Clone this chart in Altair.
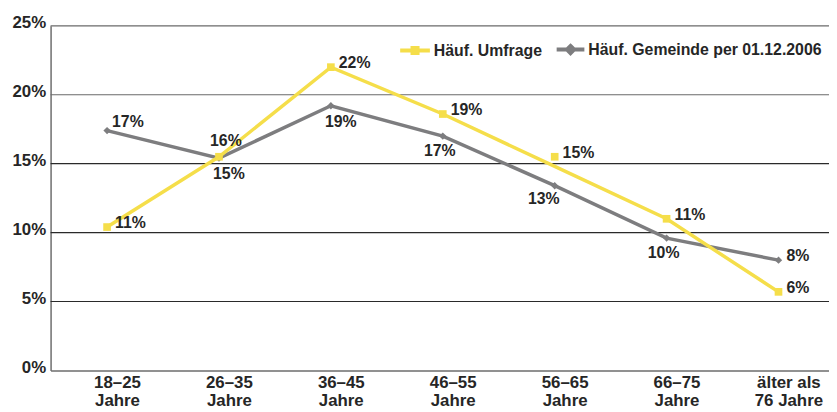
import altair as alt
import pandas as pd

# ---- data ----
ages = ["18–25|Jahre", "26–35|Jahre", "36–45|Jahre", "46–55|Jahre",
        "56–65|Jahre", "66–75|Jahre", "älter als|76 Jahre"]
series_names = ["Häuf. Umfrage", "Häuf. Gemeinde per 01.12.2006"]

umfrage_points = [10.4, 15.5, 22.0, 18.6, 15.5, 11.0, 5.7]
umfrage_line = [10.4, 15.5, 22.0, 18.6, 14.8, 11.0, 5.7]
umfrage_labels = ["11%", "16%", "22%", "19%", "15%", "11%", "6%"]
umfrage_label_pos = ["right", "above", "right", "right", "right", "right", "right"]

gemeinde_points = [17.4, 15.4, 19.2, 17.0, 13.4, 9.6, 8.0]
gemeinde_line = [17.4, 15.4, 19.2, 17.0, 13.4, 9.6, 8.0]
gemeinde_labels = ["17%", "15%", "19%", "17%", "13%", "10%", "8%"]
gemeinde_label_pos = ["upright", "below_right", "below_right", "below",
                      "below_left", "below", "right"]

y_ticks = [0, 5, 10, 15, 20, 25]

# ---- styles ----
YELLOW = "#f5de4a"
GRAY = "#7d7d7f"
TEXT = "#262626"
FONT = "Liberation Sans"

rows = []
for name, pts, ln, lab, pos in [
    (series_names[0], umfrage_points, umfrage_line, umfrage_labels, umfrage_label_pos),
    (series_names[1], gemeinde_points, gemeinde_line, gemeinde_labels, gemeinde_label_pos),
]:
    for a, p, l, t, ps in zip(ages, pts, ln, lab, pos):
        rows.append({"age": a, "series": name, "point": p, "line": l,
                     "label": t, "pos": ps})
df = pd.DataFrame(rows)
grid_df = pd.DataFrame({"tick": y_ticks[1:]})

x_scale = alt.Scale(type="point", padding=0.478, align=0.528)
y_scale = alt.Scale(domain=[0, 25], nice=False, zero=True)

x_axis = alt.Axis(title=None, labelExpr="split(datum.label, '|')",
                  labelFont=FONT, labelFontSize=17, labelFontWeight="bold",
                  labelColor=TEXT, labelLineHeight=18, labelBaseline="top",
                  labelPadding=4, labelOffset=10, ticks=False,
                  domainColor="#6d6d6d", domainWidth=1.5, grid=False,
                  labelAngle=0)
y_axis = alt.Axis(title=None, values=y_ticks, labelExpr="datum.value + '%'",
                  labelFont=FONT, labelFontSize=17, labelFontWeight="bold",
                  labelColor=TEXT, labelPadding=5, labelOffset=-3, ticks=False,
                  domainColor="#6d6d6d", domainWidth=1.5, grid=False)

base = alt.Chart(df)
X = alt.X("age:N", sort=ages, scale=x_scale, axis=x_axis)


def Y(field):
    return alt.Y(field, scale=y_scale, axis=y_axis)


um = base.transform_filter(alt.datum.series == series_names[0])
ge = base.transform_filter(alt.datum.series == series_names[1])

grid = alt.Chart(grid_df).mark_rule(strokeWidth=1.2).encode(
    y=Y("tick:Q"),
    color=alt.condition(alt.datum.tick >= 20, alt.value("#6a6a6a"), alt.value("#2a2a2a")),
)

legend_common = dict(orient="none", title=None, padding=0, labelFont=FONT,
                     labelFontSize=16, labelFontWeight="bold", labelColor=TEXT,
                     labelOffset=2, labelLimit=0, symbolStrokeWidth=4, legendY=8)

gray_line = ge.mark_line(strokeWidth=3.5).encode(
    x=X, y=Y("line:Q"),
    stroke=alt.Stroke("series:N",
                      scale=alt.Scale(domain=[series_names[1]], range=[GRAY]),
                      legend=alt.Legend(legendX=509, symbolSize=784,
                                        symbolType="M-1,0H1M0,-0.26L0.26,0L0,0.26L-0.26,0Z",
                                        symbolFillColor=GRAY,
                                        **legend_common)),
)
yellow_line = um.mark_line(strokeWidth=3.5).encode(
    x=X, y=Y("line:Q"),
    color=alt.Color("series:N",
                    scale=alt.Scale(domain=[series_names[0]], range=[YELLOW]),
                    legend=alt.Legend(legendX=351, symbolSize=900,
                                      symbolType="M-1,0H1M-0.17,-0.17H0.17V0.17H-0.17Z",
                                      symbolFillColor=YELLOW,
                                      **legend_common)),
)
gray_pts = ge.mark_point(shape="diamond", filled=True, size=55, color=GRAY,
                         opacity=1).encode(x=X, y=Y("point:Q"))
yellow_pts = um.mark_square(size=60, color=YELLOW, opacity=1).encode(
    x=X, y=Y("point:Q"))

POS = {
    "right": dict(align="left", dx=8, dy=-4),
    "above": dict(align="center", dx=7, dy=-16),
    "upright": dict(align="left", dx=5, dy=-9),
    "below_right": dict(align="center", dx=10, dy=16),
    "below": dict(align="center", dx=-3, dy=15),
    "below_left": dict(align="center", dx=-11, dy=13),
}

texts = []
for sub in (um, ge):
    for key, st in POS.items():
        texts.append(
            sub.transform_filter(alt.datum.pos == key).mark_text(
                font=FONT, fontSize=16, fontWeight="bold", color=TEXT,
                baseline="middle", **st
            ).encode(x=X, y=Y("point:Q"), text="label:N")
        )

chart = alt.layer(grid, gray_line, yellow_line, gray_pts, yellow_pts, *texts).properties(
    width=786, height=348,
    autosize=alt.AutoSizeParams(type="none"),
    padding={"left": 43, "top": 16, "right": 0, "bottom": 40},
    background="white",
).configure_view(stroke=None)

chart.save("out.html", embed_options={"renderer": "svg", "actions": False})
